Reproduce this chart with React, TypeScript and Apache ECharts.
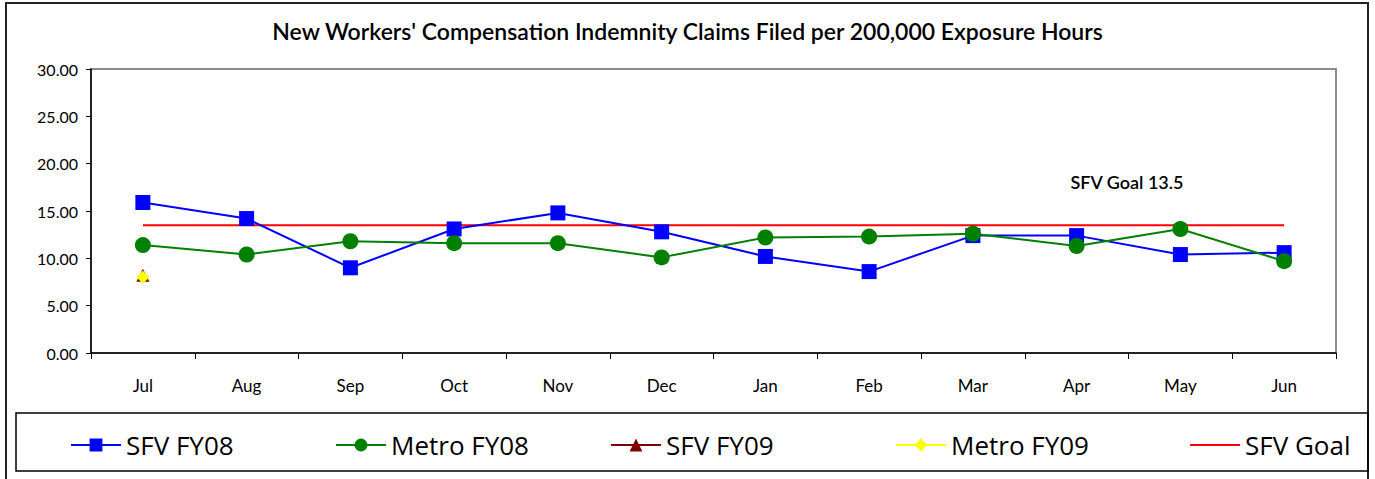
import React, { useEffect, useRef } from "react";
import * as echarts from "echarts";

const months = ["Jul", "Aug", "Sep", "Oct", "Nov", "Dec", "Jan", "Feb", "Mar", "Apr", "May", "Jun"];
const sfvFY08 = [15.9, 14.2, 9.0, 13.1, 14.8, 12.8, 10.2, 8.6, 12.4, 12.4, 10.4, 10.6];
const metroFY08 = [11.4, 10.4, 11.8, 11.6, 11.6, 10.1, 12.2, 12.3, 12.6, 11.3, 13.1, 9.7];
const sfvFY09 = [8.2, null, null, null, null, null, null, null, null, null, null, null];
const metroFY09 = [8.0, null, null, null, null, null, null, null, null, null, null, null];
const sfvGoal = [13.5, 13.5, 13.5, 13.5, 13.5, 13.5, 13.5, 13.5, 13.5, 13.5, 13.5, 13.5];
const yTicks = { min: 0, max: 30, interval: 5 };

const titleText = "New Workers' Compensation Indemnity Claims Filed per 200,000 Exposure Hours";
const goalLabel = "SFV Goal 13.5";

export default function App() {
  const ref = useRef<HTMLDivElement>(null);
  useEffect(() => {
    if (!ref.current) return;
    const chart = echarts.init(ref.current, null, { renderer: "svg" });
    const legendFont = { fontFamily: "Open Sans", fontSize: 26, color: "#000" };
    const legendNames = ["SFV FY08", "Metro FY08", "SFV FY09", "Metro FY09", "SFV Goal"];
    const legendLefts = [65, 330, 605, 890, 1185];
    const lineIcon =
      "path://M0,0 L0.01,0 L0,0.01 Z M0,7 L50,7 L50,9 L0,9 Z M50,16 L49.99,16 L50,15.99 Z";
    chart.setOption({
      animation: false,
      backgroundColor: "#fff",
      title: {
        text: titleText,
        left: "center",
        top: 14,
        textStyle: { fontFamily: "Lato", fontSize: 23, fontWeight: 600, color: "#000" },
      },
      legend: legendNames.map((n, i) => {
        const isGoal = n === "SFV Goal";
        return {
          data: isGoal ? [{ name: n, icon: lineIcon }] : [n],
          left: legendLefts[i],
          top: 427,
          itemWidth: 50,
          itemHeight: 16,
          selectedMode: false,
          textStyle: legendFont,
        };
      }),
      grid: {
        left: 91,
        right: 39,
        top: 69,
        bottom: 126,
        show: true,
        borderColor: "#8c8c8c",
        borderWidth: 2,
      },
      xAxis: {
        type: "category",
        data: months,
        boundaryGap: true,
        axisLine: { lineStyle: { color: "#000", width: 1.5 } },
        axisTick: { show: true, length: 6, lineStyle: { color: "#000" }, alignWithLabel: false },
        axisLabel: { color: "#000", fontFamily: "Lato", fontSize: 17, margin: 24 },
      },
      yAxis: {
        type: "value",
        min: yTicks.min,
        max: yTicks.max,
        interval: yTicks.interval,
        splitLine: { show: false },
        axisLine: { show: true, lineStyle: { color: "#000", width: 1.5 } },
        axisTick: { show: true, length: 5, lineStyle: { color: "#000" } },
        axisLabel: {
          color: "#000",
          fontFamily: "Lato",
          fontSize: 16,
          margin: 13,
          formatter: (v: number) => v.toFixed(2),
        },
      },
      series: [
        {
          name: "SFV FY08",
          type: "line",
          data: sfvFY08,
          symbol: "rect",
          symbolSize: 15,
          color: "#0000ff",
          lineStyle: { width: 2, color: "#0000ff" },
          itemStyle: { color: "#0000ff" },
          z: 3,
        },
        {
          name: "Metro FY08",
          type: "line",
          data: metroFY08,
          symbol: "circle",
          symbolSize: 16,
          color: "#008000",
          lineStyle: { width: 2, color: "#008000" },
          itemStyle: { color: "#008000" },
          z: 3,
        },
        {
          name: "SFV FY09",
          type: "line",
          data: sfvFY09,
          symbol: "triangle",
          symbolSize: 13,
          color: "#800000",
          lineStyle: { width: 2, color: "#800000" },
          itemStyle: { color: "#800000" },
          z: 4,
        },
        {
          name: "Metro FY09",
          type: "line",
          data: metroFY09,
          symbol: "diamond",
          symbolSize: 13,
          color: "#ffff00",
          lineStyle: { width: 2, color: "#ffff00" },
          itemStyle: { color: "#ffff00" },
          z: 5,
        },
        {
          name: "SFV Goal",
          type: "line",
          data: sfvGoal,
          symbol: "none",
          color: "#ff0000",
          lineStyle: { width: 2, color: "#ff0000" },
          itemStyle: { color: "#ff0000" },
          z: 2,
        },
      ],
      graphic: [
        {
          type: "rect",
          silent: true,
          shape: { x: 6, y: 3, width: 1362, height: 500 },
          style: { fill: "none", stroke: "#222", lineWidth: 2 },
          z: 0,
        },
        {
          type: "rect",
          silent: true,
          shape: { x: 16, y: 413, width: 1352, height: 58 },
          style: { fill: "none", stroke: "#000", lineWidth: 1.5 },
          z: 0,
        },
        {
          type: "text",
          silent: true,
          x: 1127,
          y: 182,
          style: {
            text: goalLabel,
            fontFamily: "Lato",
            fontSize: 18,
            fontWeight: 600,
            fill: "#000",
            align: "center",
            verticalAlign: "middle",
          },
        },
      ],
    });
    return () => chart.dispose();
  }, []);
  return <div ref={ref} style={{ position: "fixed", left: 0, top: 0, width: 1375, height: 479 }} />;
}
